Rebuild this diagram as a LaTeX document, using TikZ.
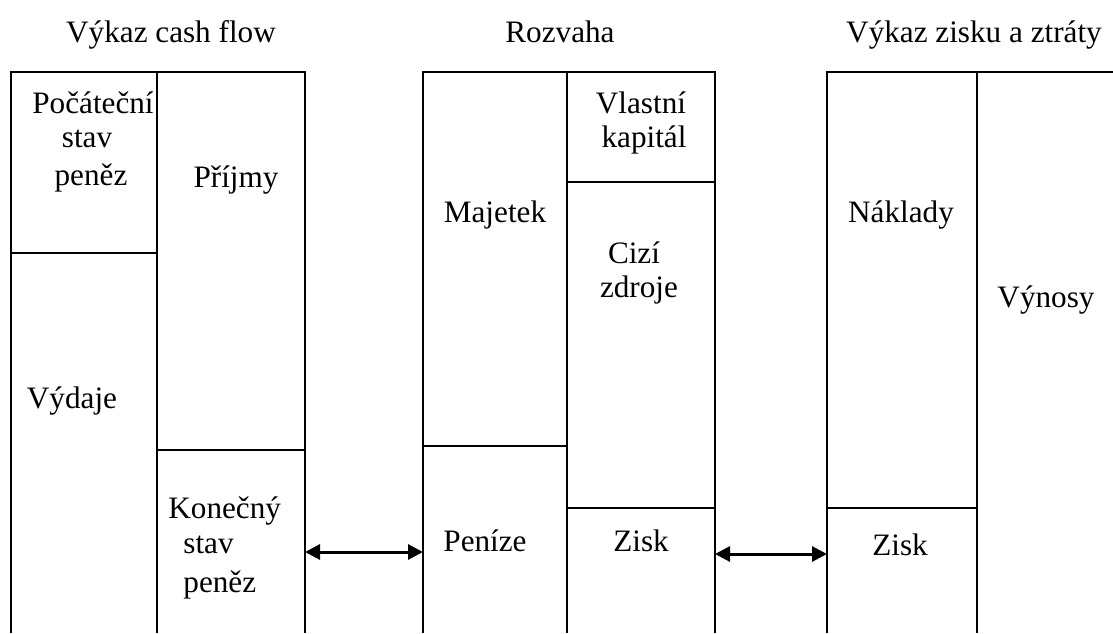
\documentclass[tikz,border=0pt]{standalone}
\usepackage{fontspec}
\setmainfont{Liberation Serif}
\usetikzlibrary{arrows.meta}
\begin{document}
\begin{tikzpicture}[x=0.5pt,y=-0.5pt,
  ln/.style={line width=1pt,black},
  txt/.style={anchor=base,inner sep=0pt,font=\fontsize{15.6pt}{18pt}\selectfont},
  dbl/.style={line width=1.5pt,{Triangle[length=7.5pt,width=7.5pt]}-{Triangle[length=7.5pt,width=7.5pt]}}]
\useasboundingbox (0,0) rectangle (1113,633);
% titles
\node[txt] (t1) at (171,42) {Výkaz cash flow};
\node[txt] (t2) at (560,42) {Rozvaha};
\node[txt] (t3) at (974,42) {Výkaz zisku a ztráty};
% table 1
\draw[ln] (11,633) -- (11,72) -- (305,72) -- (305,633);
\draw[ln] (157,72) -- (157,633);
\draw[ln] (11,253) -- (157,253);
\draw[ln] (157,450) -- (305,450);
% table 2
\draw[ln] (423,633) -- (423,72) -- (715,72) -- (715,633);
\draw[ln] (567,72) -- (567,633);
\draw[ln] (567,182) -- (715,182);
\draw[ln] (423,446) -- (567,446);
\draw[ln] (567,508) -- (715,508);
% table 3
\draw[ln] (827,633) -- (827,72) -- (1113,72);
\draw[ln] (977,72) -- (977,633);
\draw[ln] (827,508) -- (977,508);
% texts table 1
\node[txt] (pz1) at (93,113) {Počáteční};
\node[txt] (pz2) at (87,147) {stav};
\node[txt] (pz3) at (91,185) {peněz};
\node[txt] (pr) at (236,187) {Příjmy};
\node[txt] (vd) at (72,408) {Výdaje};
\node[txt,anchor=base west] (ks1) at (168,518) {Konečný};
\node[txt,anchor=base west] (ks2) at (183,553) {stav};
\node[txt,anchor=base west] (ks3) at (183,592) {peněz};
% texts table 2
\node[txt] (mj) at (495,222) {Majetek};
\node[txt] (vk1) at (641,113) {Vlastní};
\node[txt] (vk2) at (644,147) {kapitál};
\node[txt] (cz1) at (634,263) {Cizí};
\node[txt] (cz2) at (639,297) {zdroje};
\node[txt] (pn) at (485,551) {Peníze};
\node[txt] (zs1) at (641,551) {Zisk};
% texts table 3
\node[txt] (nk) at (901,222) {Náklady};
\node[txt] (vn) at (1046,307) {Výnosy};
\node[txt] (zs2) at (900,555) {Zisk};
% arrows
\coordinate (a1l) at (305,552);
\coordinate (a1r) at (423,552);
\coordinate (a2l) at (715,554);
\coordinate (a2r) at (827,554);
\draw[dbl] (a1l) -- (a1r);
\draw[dbl] (a2l) -- (a2r);
\end{tikzpicture}
\end{document}
